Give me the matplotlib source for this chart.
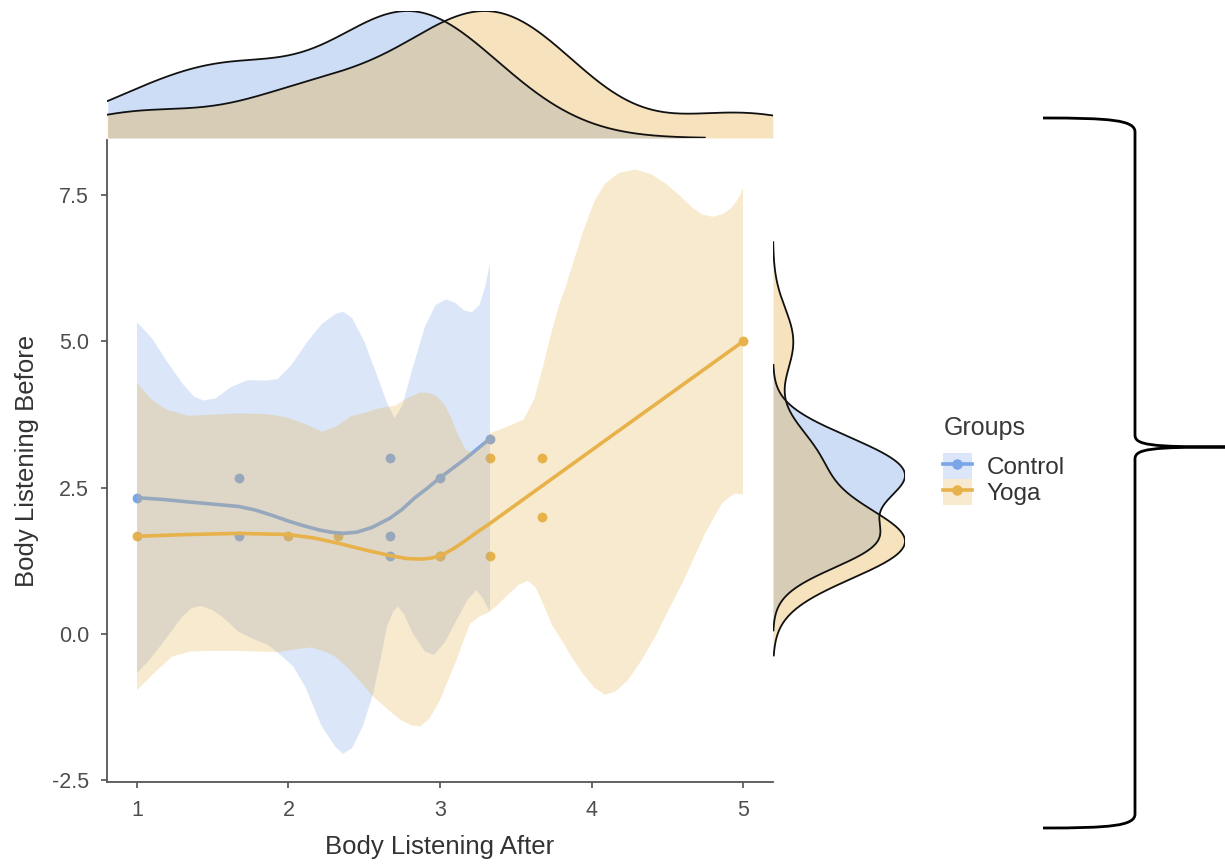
import numpy as np
import matplotlib
matplotlib.use("Agg")
import matplotlib.pyplot as plt
from matplotlib.path import Path
from matplotlib.patches import PathPatch, Patch
from matplotlib.lines import Line2D

# ---------------- data ----------------
ctrl_after = [1.0, 1.67, 1.67, 2.67, 2.67, 2.67, 3.0, 3.33]
ctrl_before = [2.33, 2.67, 1.67, 3.0, 1.67, 1.33, 2.67, 3.33]
yoga_after = [1.0, 2.0, 2.33, 3.0, 3.0, 3.33, 3.33, 3.67, 3.67, 5.0]
yoga_before = [1.67, 1.67, 1.67, 1.33, 1.33, 3.0, 1.33, 3.0, 2.0, 5.0]

# smoothed fit (loess) per group
ctrl_fit_x = [1.0, 1.17, 1.33, 1.5, 1.67, 1.78, 1.9, 2.0, 2.1, 2.2, 2.28, 2.36, 2.45, 2.55, 2.67, 2.75, 2.83,
              2.92, 3.0, 3.17, 3.33]
ctrl_fit_y = [2.33, 2.30, 2.26, 2.22, 2.18, 2.12, 2.02, 1.93, 1.85, 1.78, 1.74, 1.72, 1.74, 1.82, 1.98, 2.13, 2.32,
              2.50, 2.67, 3.00, 3.34]
yoga_fit_x = [1.0, 1.33, 1.67, 2.0, 2.17, 2.33, 2.5, 2.67, 2.78, 2.88, 2.95, 3.02, 3.09, 3.17, 3.25, 3.33, 4.0, 5.0]
yoga_fit_y = [1.67, 1.70, 1.72, 1.70, 1.64, 1.55, 1.44, 1.34, 1.29, 1.28, 1.30, 1.36, 1.46, 1.60, 1.75, 1.89, 3.14, 5.0]

# confidence bands
ctrl_hi_x = [1.00, 1.10, 1.20, 1.30, 1.38, 1.44, 1.52, 1.62, 1.73, 1.85, 1.93, 2.02, 2.12, 2.22, 2.31, 2.36,
             2.42, 2.50, 2.58, 2.65, 2.70, 2.75, 2.82, 2.90, 2.97, 3.04, 3.10, 3.16, 3.21, 3.26, 3.30, 3.33]
ctrl_hi_y = [5.33, 5.05, 4.65, 4.28, 4.05, 3.99, 4.03, 4.22, 4.34, 4.33, 4.36, 4.60, 4.98, 5.30, 5.47, 5.51,
             5.40, 5.00, 4.45, 3.95, 3.69, 3.90, 4.55, 5.25, 5.62, 5.72, 5.66, 5.53, 5.50, 5.62, 5.95, 6.34]
ctrl_lo_x = [1.00, 1.08, 1.15, 1.22, 1.30, 1.36, 1.42, 1.49, 1.56, 1.62, 1.67, 1.73, 1.78, 1.86, 1.93, 2.03,
             2.11, 2.22, 2.31, 2.36, 2.42, 2.49, 2.56, 2.61, 2.65, 2.69, 2.72, 2.76, 2.82, 2.90, 2.96, 3.03,
             3.11, 3.18, 3.24, 3.28, 3.33]
ctrl_lo_y = [-0.67, -0.45, -0.22, 0.02, 0.30, 0.44, 0.48, 0.42, 0.30, 0.16, 0.04, -0.04, -0.10, -0.18, -0.32, -0.55,
             -0.90, -1.58, -1.93, -2.05, -1.95, -1.58, -1.01, -0.40, 0.12, 0.38, 0.47, 0.35, 0.01, -0.30, -0.36, -0.15,
             0.24, 0.58, 0.75, 0.62, 0.38]
yoga_hi_x = [1.00, 1.10, 1.20, 1.34, 1.50, 1.67, 1.85, 1.98, 2.10, 2.22, 2.31, 2.41, 2.50, 2.60, 2.70, 2.80,
             2.87, 2.93, 2.98, 3.03, 3.07, 3.12, 3.17, 3.22, 3.28, 3.33, 3.44, 3.55, 3.62, 3.68, 3.74, 3.79,
             3.83, 3.94, 4.02, 4.09, 4.18, 4.29, 4.40, 4.49, 4.58, 4.66, 4.73, 4.80, 4.87, 4.93, 4.97, 5.00]
yoga_hi_y = [4.29, 4.00, 3.83, 3.73, 3.75, 3.77, 3.76, 3.71, 3.60, 3.46, 3.54, 3.72, 3.78, 3.86, 3.90, 4.05,
             4.13, 4.12, 4.06, 3.92, 3.72, 3.40, 3.15, 3.10, 3.25, 3.43, 3.54, 3.66, 4.00, 4.57, 5.20, 5.65,
             5.94, 6.85, 7.40, 7.70, 7.88, 7.94, 7.85, 7.70, 7.50, 7.30, 7.17, 7.13, 7.18, 7.30, 7.45, 7.62]
yoga_lo_x = [1.00, 1.10, 1.23, 1.35, 1.45, 1.67, 1.93, 2.05, 2.15, 2.24, 2.31, 2.40, 2.56, 2.66, 2.74, 2.81,
             2.87, 2.93, 3.00, 3.06, 3.11, 3.16, 3.20, 3.26, 3.31, 3.37, 3.46, 3.52, 3.58, 3.63, 3.68, 3.74,
             3.79, 3.87, 3.94, 4.02, 4.09, 4.16, 4.24, 4.33, 4.42, 4.51, 4.60, 4.68, 4.75, 4.81, 4.86, 4.92,
             4.95, 5.00]
yoga_lo_y = [-0.96, -0.70, -0.39, -0.30, -0.29, -0.29, -0.31, -0.26, -0.23, -0.30, -0.39, -0.60, -1.07, -1.30, -1.47, -1.56,
             -1.58, -1.45, -1.13, -0.75, -0.44, -0.08, 0.18, 0.30, 0.35, 0.47, 0.70, 0.84, 0.91, 0.80, 0.52, 0.15,
             -0.05, -0.40, -0.67, -0.92, -1.04, -0.98, -0.79, -0.45, -0.05, 0.42, 0.87, 1.32, 1.72, 2.00, 2.23, 2.36,
             2.40, 2.38]

groups = ["Control", "Yoga"]
x_ticks = [1, 2, 3, 4, 5]
y_ticks = [-2.5, 0.0, 2.5, 5.0, 7.5]

# ---------------- style ----------------
CTRL = "#7aa5e8"
YOGA = "#e8b24a"
BAND_ALPHA = 0.27
DENS_ALPHA = 0.37

plt.rcParams["axes.unicode_minus"] = False
plt.rcParams["font.family"] = ["Liberation Sans", "DejaVu Sans"]

W, H = 1225, 865
fig = plt.figure(figsize=(W / 100, H / 100), dpi=100)


def fx(px):
    return px / W


def fy(py):
    return 1 - py / H


XLIM = (0.802, 5.198)
YLIM = (-2.53, 8.444)

# ---------------- main panel ----------------
ax = fig.add_axes([fx(107), fy(782), fx(773) - fx(107), fy(140) - fy(782)])
ax.scatter(ctrl_after, ctrl_before, s=50, color=CTRL, lw=0, zorder=1)
ax.scatter(yoga_after, yoga_before, s=50, color=YOGA, lw=0, zorder=1)

ax.fill(np.r_[ctrl_hi_x, ctrl_lo_x[::-1]], np.r_[ctrl_hi_y, ctrl_lo_y[::-1]],
        color=CTRL, alpha=BAND_ALPHA, lw=0, zorder=2)
ax.plot(ctrl_fit_x, ctrl_fit_y, color=CTRL, lw=2.6, solid_capstyle="round",
        solid_joinstyle="round", zorder=3)
ax.fill(np.r_[yoga_hi_x, yoga_lo_x[::-1]], np.r_[yoga_hi_y, yoga_lo_y[::-1]],
        color=YOGA, alpha=BAND_ALPHA, lw=0, zorder=4)
ax.plot(yoga_fit_x, yoga_fit_y, color=YOGA, lw=2.6, solid_capstyle="round",
        solid_joinstyle="round", zorder=5)

ax.set_xlim(*XLIM)
ax.set_ylim(*YLIM)
ax.set_xticks(x_ticks)
ax.set_yticks(y_ticks)
ax.set_xticklabels([str(t) for t in x_ticks])
ax.set_yticklabels([f"{t:.1f}" for t in y_ticks])
for side in ("top", "right"):
    ax.spines[side].set_visible(False)
for side in ("left", "bottom"):
    ax.spines[side].set_color("#555555")
    ax.spines[side].set_linewidth(1.3)
ax.tick_params(length=4, width=1.1, color="#444444", labelsize=15.5, labelcolor="#4d4d4d", pad=9)
ax.set_xlabel("Body Listening After", fontsize=18.5, color="#333333")
ax.set_ylabel("Body Listening Before", fontsize=18.5, color="#333333")
ax.xaxis.label.set_va("center")
ax.yaxis.label.set_va("center")
ax.xaxis.set_label_coords(0.5, (782 - 847) / 642)
ax.yaxis.set_label_coords((27 - 107) / 666, 0.5)


# ---------------- marginal densities ----------------
def scaled_density(values):
    v = np.asarray(values, dtype=float)
    q75, q25 = np.percentile(v, [75, 25])
    bw = 0.9 * min(v.std(ddof=1), (q75 - q25) / 1.34) * len(v) ** -0.2
    grid = np.linspace(v.min() - 3 * bw, v.max() + 3 * bw, 600)
    d = np.exp(-0.5 * ((grid[:, None] - v[None, :]) / bw) ** 2).sum(axis=1)
    return grid, d / d.max()


axt = fig.add_axes([fx(107), fy(138), fx(773) - fx(107), fy(11) - fy(138)])
for vals, col in ((ctrl_after, CTRL), (yoga_after, YOGA)):
    g, d = scaled_density(vals)
    keep = (g >= XLIM[0]) & (g <= XLIM[1])
    axt.fill_between(g[keep], 0, d[keep], color=col, alpha=DENS_ALPHA, lw=0)
    axt.plot(g[keep], d[keep], color="#111111", lw=1.3)
axt.set_xlim(*XLIM)
axt.set_ylim(0, 1)
axt.axis("off")

axr = fig.add_axes([fx(773), fy(782), fx(905) - fx(773), fy(140) - fy(782)])
for vals, col in ((ctrl_before, CTRL), (yoga_before, YOGA)):
    g, d = scaled_density(vals)
    axr.fill_betweenx(g, 0, d, color=col, alpha=DENS_ALPHA, lw=0)
    axr.plot(d, g, color="#111111", lw=1.3)
axr.set_xlim(0, 1)
axr.set_ylim(*YLIM)
axr.axis("off")

# ---------------- legend ----------------
fig.text(fx(944), fy(428), "Groups", fontsize=18, color="#3a3a3a", ha="left", va="center")
handles = [
    (Patch(facecolor=CTRL, alpha=BAND_ALPHA, edgecolor="none"),
     Line2D([], [], color=CTRL, lw=2.6, marker="o", ms=6.5)),
    (Patch(facecolor=YOGA, alpha=BAND_ALPHA, edgecolor="none"),
     Line2D([], [], color=YOGA, lw=2.6, marker="o", ms=6.5)),
]
leg = fig.legend(handles, groups, loc="upper left",
                 bbox_to_anchor=(fx(943), fy(453)), frameon=False,
                 fontsize=17.5, handlelength=1.19, handleheight=1.25,
                 handletextpad=0.6, labelspacing=0.0, borderpad=0, borderaxespad=0,
                 labelcolor="#333333")

# ---------------- brace ----------------
tip = 447
pts = [
    (1043, 118), (1110, 118), (1135, 120), (1135, 132),
    (1135, tip - 12),
    (1135, tip - 2), (1150, tip), (1225, tip),
    (1150, tip), (1135, tip + 2), (1135, tip + 12),
    (1135, 814),
    (1135, 826), (1110, 828), (1043, 828),
]
codes = [Path.MOVETO, Path.CURVE4, Path.CURVE4, Path.CURVE4,
         Path.LINETO,
         Path.CURVE4, Path.CURVE4, Path.CURVE4,
         Path.CURVE4, Path.CURVE4, Path.CURVE4,
         Path.LINETO,
         Path.CURVE4, Path.CURVE4, Path.CURVE4]
brace = Path([(fx(a), fy(b)) for a, b in pts], codes)
fig.add_artist(PathPatch(brace, transform=fig.transFigure, fill=False, lw=2.0,
                         edgecolor="black", capstyle="butt"))

fig.savefig("out.png", dpi=100)
